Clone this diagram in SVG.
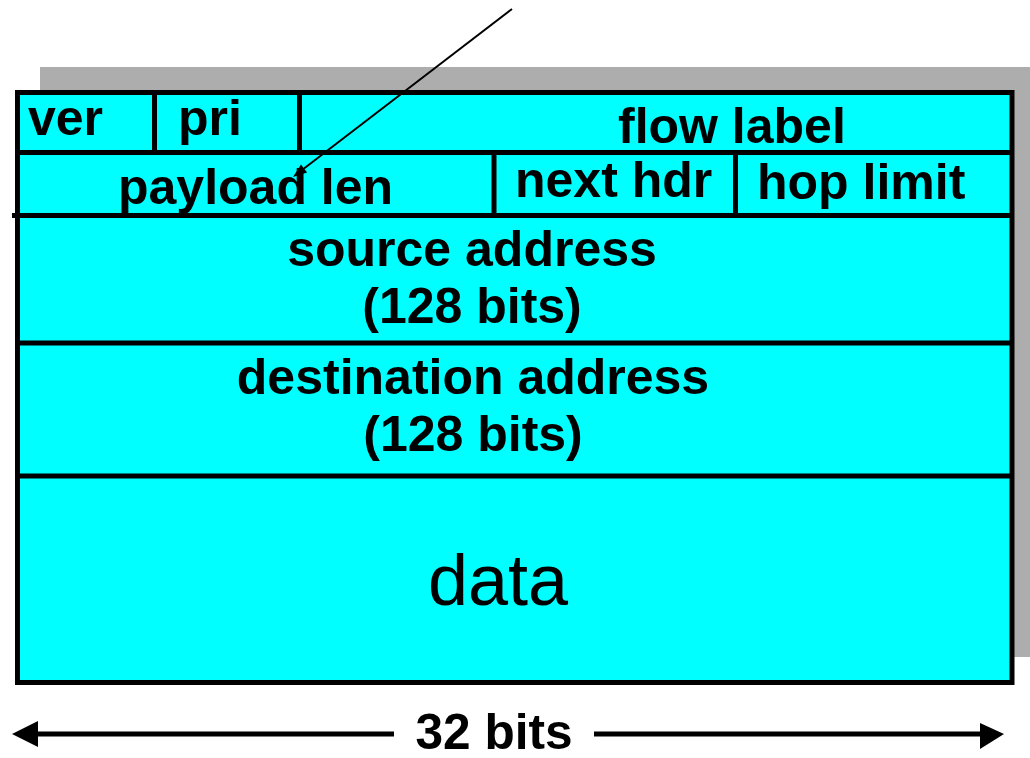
<svg xmlns="http://www.w3.org/2000/svg" width="1030" height="758" viewBox="0 0 1030 758">
  <style>
    .lbl { font-family: "Liberation Sans", Arial, sans-serif; font-weight: bold; font-size: 50px; fill: #000; }
    .mid { text-anchor: middle; }
    .div { stroke: #000; stroke-width: 5; fill: none; }
    .conn { stroke: #000; fill: none; }
    .head { fill: #000; stroke: none; }
  </style>
  <rect id="shadow" x="40" y="67" width="990" height="590" fill="#adadad"/>
  <g id="frame">
    <rect x="17.5" y="92.5" width="994.5" height="590" fill="#00ffff" stroke="#000" stroke-width="5"/>
    <line class="div" x1="20" y1="152.5" x2="1010" y2="152.5"/>
    <line class="div" x1="12" y1="215.5" x2="1010" y2="215.5"/>
    <line class="div" x1="20" y1="343" x2="1010" y2="343"/>
    <line class="div" x1="20" y1="476" x2="1010" y2="476"/>
    <line class="div" x1="154.5" y1="95" x2="154.5" y2="152"/>
    <line class="div" x1="299.5" y1="95" x2="299.5" y2="152"/>
    <line class="div" x1="494" y1="153" x2="494" y2="215"/>
    <line class="div" x1="735.5" y1="153" x2="735.5" y2="215"/>
  </g>
  <g id="ver"><text class="lbl" x="28" y="135">ver</text></g>
  <g id="pri"><text class="lbl" x="178" y="135">pri</text></g>
  <g id="flow-label"><text class="lbl" x="618" y="143">flow label</text></g>
  <g id="payload-len"><text class="lbl" x="118" y="204">payload len</text></g>
  <g id="next-hdr"><text class="lbl" x="515" y="197">next hdr</text></g>
  <g id="hop-limit"><text class="lbl" x="757" y="199">hop limit</text></g>
  <g id="source-address">
    <text class="lbl mid" x="472" y="266">source address</text>
    <text class="lbl mid" x="472" y="323">(128 bits)</text>
  </g>
  <g id="destination-address">
    <text class="lbl mid" x="473" y="394">destination address</text>
    <text class="lbl mid" x="473" y="451">(128 bits)</text>
  </g>
  <g id="data"><text x="498" y="605" text-anchor="middle" font-family="'Liberation Sans', Arial, sans-serif" font-size="72">data</text></g>
  <g id="width-label"><text class="lbl mid" x="494" y="749" font-size="40" textLength="157" lengthAdjust="spacingAndGlyphs">32 bits</text></g>
  <g id="connectors">
    <line class="conn" x1="512" y1="9" x2="304" y2="168.5" stroke-width="2"/>
    <polygon class="head" points="293,177 307.1,172.5 301,164.5"/>
    <line class="conn" x1="36" y1="734" x2="394" y2="734" stroke-width="5"/>
    <polygon class="head" points="12,734 38,721 38,747"/>
    <line class="conn" x1="594" y1="734" x2="982" y2="734" stroke-width="5"/>
    <polygon class="head" points="1004,734 980,723 980,749"/>
  </g>
</svg>
